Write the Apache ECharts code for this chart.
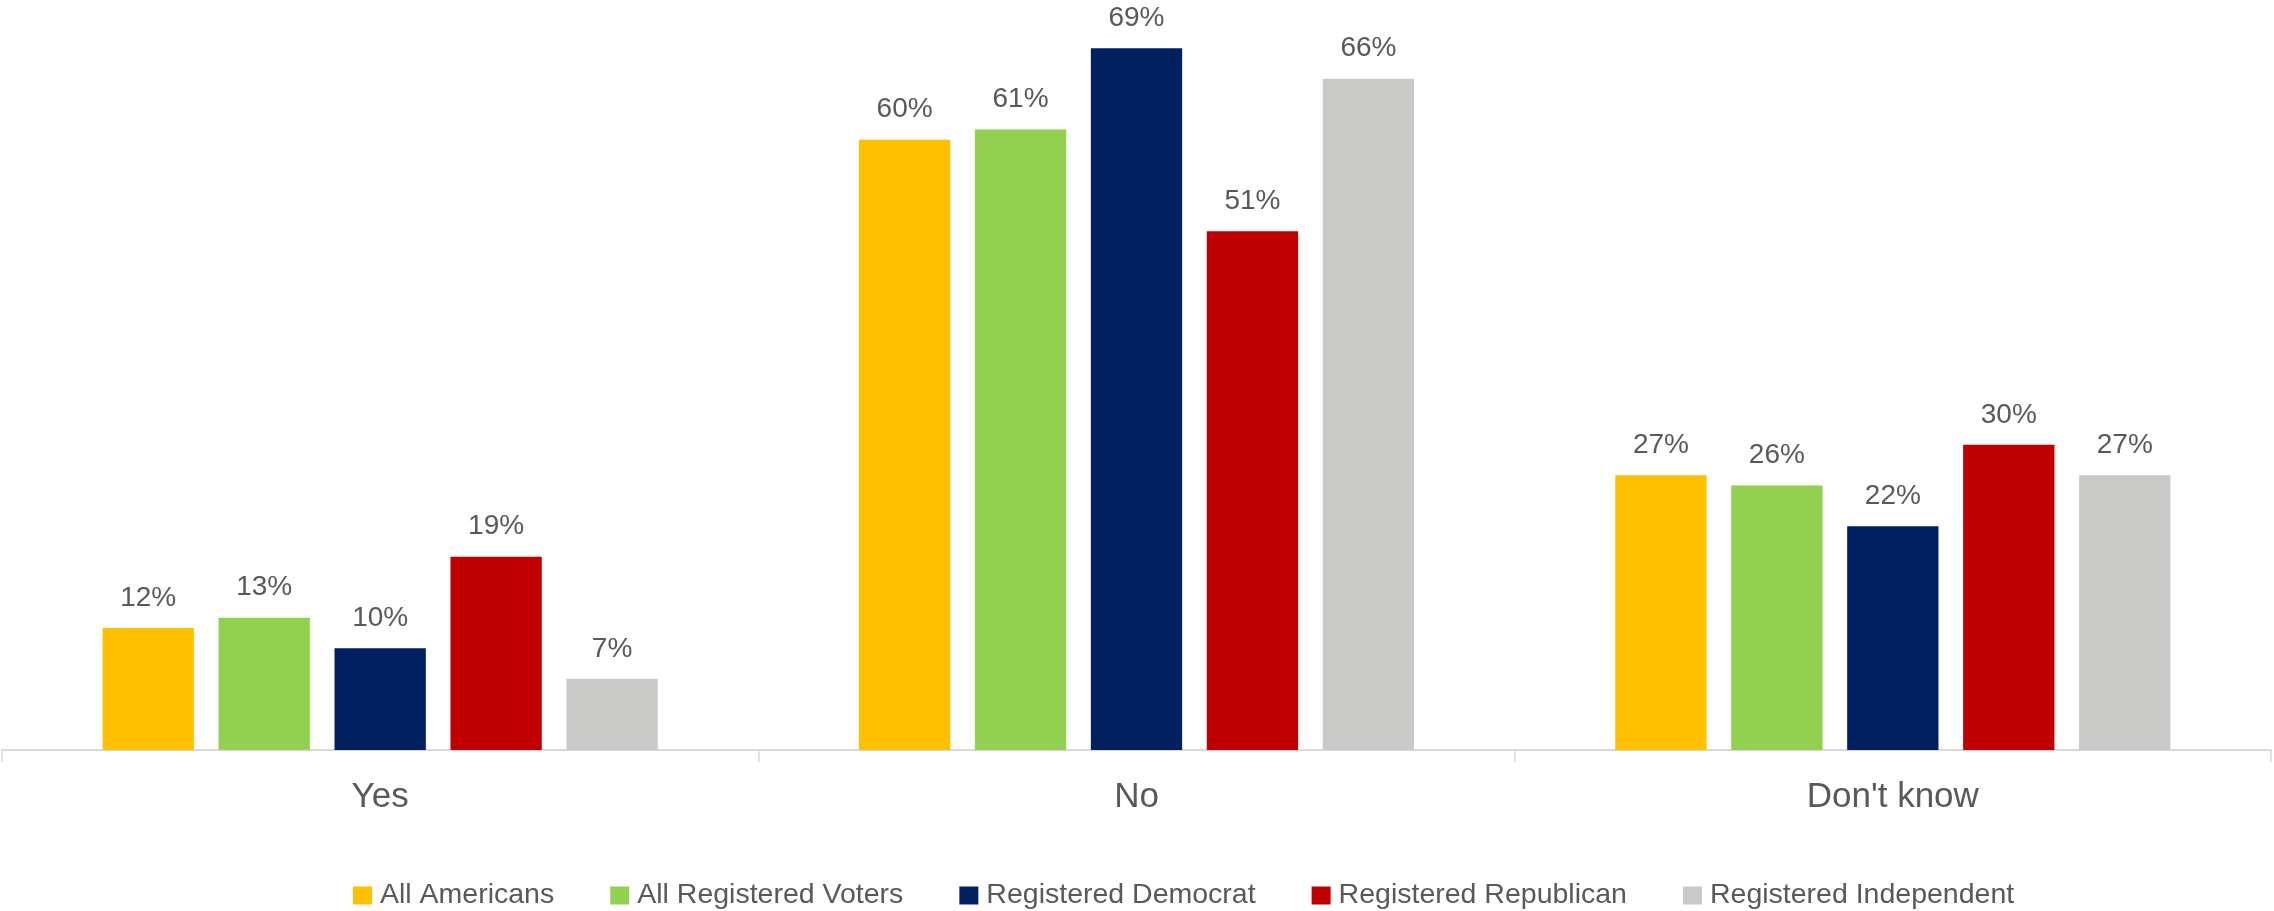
<!DOCTYPE html>
<html>
<head>
<meta charset="utf-8">
<script src="https://cdn.jsdelivr.net/npm/echarts@6/dist/echarts.min.js"></script>
<style>
html,body{margin:0;padding:0;background:#fff;}
#chart{width:2274px;height:911px;}
</style>
</head>
<body>
<div id="chart"></div>
<script>
const categories = ["Yes", "No", "Don't know"];
const seriesNames = ["All Americans", "All Registered Voters", "Registered Democrat", "Registered Republican", "Registered Independent"];
const allAmericans = [12, 60, 27];
const allRegisteredVoters = [13, 61, 26];
const registeredDemocrat = [10, 69, 22];
const registeredRepublican = [19, 51, 30];
const registeredIndependent = [7, 66, 27];
const seriesValues = [allAmericans, allRegisteredVoters, registeredDemocrat, registeredRepublican, registeredIndependent];
const colors = ["#FFC000", "#92D050", "#002060", "#C00000", "#C9C9C7"];

const chart = echarts.init(document.getElementById('chart'), null, {renderer: 'canvas'});
const font = "'Liberation Sans', Arial, sans-serif";
chart.setOption({
  animation: false,
  backgroundColor: '#ffffff',
  color: colors,
  textStyle: {fontFamily: font},
  grid: {left: 2, right: 3, top: 38, bottom: 161, containLabel: false},
  legend: {
    data: seriesNames,
    left: 348,
    top: 876,
    itemWidth: 19,
    itemHeight: 18,
    itemGap: 56,
    icon: 'rect',
    textStyle: {fontSize: 28.5, color: '#595959', fontFamily: font, padding: [0, 0, 0, 3]}
  },
  xAxis: {
    type: 'category',
    data: categories,
    axisLine: {show: true, lineStyle: {color: '#D9D9D9', width: 2}},
    axisTick: {show: true, length: 12, lineStyle: {color: '#D9D9D9', width: 1.5}},
    axisLabel: {fontSize: 35, color: '#595959', margin: 30, fontFamily: font},
    splitLine: {show: false}
  },
  yAxis: {
    type: 'value',
    min: 0,
    max: 70,
    show: false,
    splitLine: {show: false}
  },
  series: seriesNames.map((name, i) => ({
    name: name,
    type: 'bar',
    data: seriesValues[i],
    barGap: '27%',
    barCategoryGap: '26.6%',
    itemStyle: {color: colors[i]},
    label: {
      show: true,
      position: 'top',
      distance: 16,
      formatter: '{c}%',
      fontSize: 28,
      color: '#595959',
      fontFamily: font
    }
  }))
});
</script>
</body>
</html>
